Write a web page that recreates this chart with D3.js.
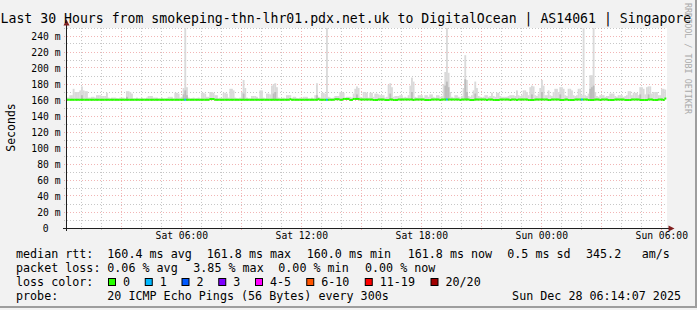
<!DOCTYPE html>
<html><head><meta charset="utf-8">
<script src="https://cdn.jsdelivr.net/npm/d3@7"></script>
<style>
html,body{margin:0;padding:0;background:#f2f2f2;}
svg{display:block;}
text{font-family:"DejaVu Sans Mono",monospace;fill:#000;}
</style></head><body>
<svg id="c" width="697" height="310"></svg>
<script>
// ---- data (5-minute steps, 360 steps = 30 hours) ----
const medianRtt = [
160.3,160.3,160.3,160.3,160.3,160.3,160.3,160.3,160.3,160.3,160.3,160.3,160.3,160.3,160.3,160.3,160.3,160.3,160.3,160.3,
160.3,160.3,160.3,160.3,160.3,160.3,160.3,160.3,160.3,160.3,160.3,160.3,160.3,160.3,160.3,160.3,160.3,160.3,160.3,160.3,
160.3,160.3,160.3,160.3,160.3,160.3,160.3,160.3,160.3,160.3,160.3,160.3,160.3,160.3,160.3,160.3,160.3,160.3,160.3,160.3,
160.3,160.3,160.3,160.3,160.3,160.3,160.3,160.3,160.3,160.3,160.3,160.3,160.3,160.3,160.3,160.3,160.3,160.3,160.3,160.3,
160.3,160.3,160.3,160.3,160.3,160.3,161.2,161.2,161.2,160.3,160.3,160.3,160.3,160.3,160.3,160.3,160.3,160.3,160.3,160.3,
160.3,160.3,160.3,160.3,160.3,160.3,160.3,160.3,160.3,160.3,160.3,160.3,160.3,160.3,160.3,160.3,160.3,160.3,160.3,160.3,
160.3,160.3,160.3,160.3,160.3,160.3,160.3,160.3,160.3,160.3,160.3,160.3,160.3,160.3,161.0,160.3,160.3,160.3,160.3,160.3,
160.3,160.3,160.3,160.3,160.3,160.3,160.3,160.3,160.3,160.3,160.3,161.0,160.3,160.3,160.3,160.3,160.3,160.3,160.3,160.3,
160.3,161.0,161.0,161.0,160.3,160.3,161.3,161.3,161.3,161.3,160.1,160.1,161.3,161.3,161.3,161.3,160.6,160.6,160.6,160.6,
160.6,160.6,160.6,160.6,160.0,160.0,160.0,160.6,160.6,160.6,160.6,160.0,160.0,160.0,160.6,160.6,160.0,160.0,160.0,160.6,
160.6,160.6,160.6,160.6,160.6,160.6,160.6,160.6,160.0,160.6,160.6,160.6,160.6,160.6,160.6,160.0,160.0,160.0,160.0,160.6,
160.6,160.6,160.6,160.6,160.0,160.6,160.6,160.6,160.6,160.6,160.6,160.6,160.6,160.6,160.6,160.6,160.0,160.6,160.6,160.6,
160.6,160.6,160.0,160.0,160.0,160.6,160.6,160.6,160.6,160.6,160.6,160.6,160.0,160.6,160.6,160.6,160.0,160.0,160.0,160.0,
160.6,160.6,160.6,160.6,160.6,160.6,160.0,160.6,160.6,160.6,160.0,160.6,160.6,160.6,160.6,160.6,160.6,160.0,160.0,160.0,
160.0,160.6,160.6,160.6,160.6,160.6,160.6,160.6,160.6,160.0,160.0,160.6,160.6,160.6,160.6,160.6,160.0,160.0,160.0,160.6,
160.6,160.0,160.0,160.0,160.0,160.6,160.6,160.6,160.6,160.6,160.6,160.6,160.6,160.0,160.0,160.0,160.0,160.6,160.6,160.6,
160.0,160.6,160.6,160.6,160.6,160.0,160.0,160.0,160.0,160.6,160.6,160.6,160.6,160.6,160.6,160.0,160.0,160.0,160.0,160.6,
160.6,160.6,160.6,160.6,160.0,160.0,160.0,160.0,160.0,160.6,160.6,160.6,160.0,160.0,160.0,160.6,160.6,160.6,160.0,161.8
];
const smokeMax = [
163,163,166,166,174,170,170,170,172,177,172,171,171,163,163,164,164,163,166,166,
166,165,165,165,169,163,162,163,163,163,162,162,163,163,163,162,171,171,170,168,
162,162,163,162,162,163,162,162,163,165,165,165,163,163,163,162,162,163,162,162,
162,164,164,164,162,169,169,168,163,164,175,260,176,163,162,162,163,162,162,163,
162,169,169,168,164,164,170,170,169,166,166,162,163,162,169,169,168,163,174,174,
172,163,162,162,163,170,185,175,163,162,162,165,165,165,164,162,172,172,163,162,
168,168,167,178,180,181,176,163,162,162,163,162,166,166,166,162,164,164,162,162,
163,162,164,164,164,162,162,163,162,166,181,164,163,169,169,168,260,164,163,162,
163,165,165,165,170,170,169,163,164,164,164,163,168,174,177,175,164,163,170,170,
169,163,169,169,164,168,168,167,166,166,166,163,164,179,181,176,164,165,165,165,
166,166,163,164,163,166,178,188,183,164,163,166,166,166,163,166,166,164,167,167,
164,163,166,166,164,165,180,195,260,194,170,164,163,166,166,164,163,165,175,216,
185,165,164,166,172,183,175,165,164,163,164,166,166,164,165,169,165,164,169,169,
165,164,164,164,164,165,166,166,166,165,172,166,165,166,172,172,170,166,176,178,
177,166,165,168,175,185,178,166,166,172,166,165,170,174,174,170,176,176,174,166,
165,174,174,172,166,165,166,174,174,166,260,166,165,168,191,191,260,170,165,164,
166,166,166,164,165,165,168,168,168,165,164,166,166,166,164,165,166,171,171,166,
169,169,169,166,176,176,174,167,176,177,177,168,170,170,170,166,166,174,174,173
];
// darker smoke core: [step, value]
const smokeDark = [[9,166],[36,164],[70,167],[71,172],[72,166],[106,168],[124,168],[125,170],[150,166],
  [174,167],[194,168],[207,170],[227,178],[228,183],[229,176],[239,186],[240,170],[245,168],[279,167],
  [285,170],[296,167],[314,174],[315,176],[316,178],[344,167],[349,167]];
// packet loss per step: [step, lost pings]
const lossSteps = [[71,1],[156,1],[228,1],[309,1]];

const yTicks = [0,20,40,60,80,100,120,140,160,180,200,220,240];
const yMinor = [10,30,50,70,90,110,130,150,170,190,210,230,250];
const xTickLabels = ["Sat 06:00","Sat 12:00","Sat 18:00","Sun 00:00","Sun 06:00"];
const lossLabels = ["0","1","2","3","4-5","6-10","11-19","20/20"];
const lossColors = ["#26ff00","#00b8ff","#0059ff","#7e00ff","#ff00ff","#ff5500","#ff0000","#a00000"];
const rttStats = ["160.4 ms avg","161.8 ms max","160.0 ms min","161.8 ms now","0.5 ms sd","345.2","am/s"];
const lossStats = ["0.06 % avg","3.85 % max","0.00 % min","0.00 % now"];
const titleText = "Last 30 Hours from smokeping-thn-lhr01.pdx.net.uk to DigitalOcean | AS14061 | Singapore";
const probeText = "20 ICMP Echo Pings (56 Bytes) every 300s";
const dateText = "Sun Dec 28 06:14:07 2025";

// ---- layout ----
const svg = d3.select("#c");
const t0 = Date.UTC(2025,11,27,0,14,7), t1 = Date.UTC(2025,11,28,6,14,7);
const STEP = 300000;
const x = d3.scaleUtc().domain([t0,t1]).range([66,666]);
const y = d3.scaleLinear().domain([0,250]).range([228,28]);
const px = v => Math.floor(v)+0.5;

svg.append("rect").attr("width",697).attr("height",310).attr("fill","#f2f2f2");
// frame
svg.append("rect").attr("x",0).attr("y",306).attr("width",697).attr("height",2).attr("fill","#9e9e9e");
svg.append("rect").attr("x",695).attr("y",0).attr("width",2).attr("height",308).attr("fill","#9e9e9e");

// canvas
svg.append("rect").attr("x",x.range()[0]+1).attr("y",y(250)).attr("width",600).attr("height",y(0)-y(250)).attr("fill","#fff");
svg.append("clipPath").attr("id","clip").append("rect")
  .attr("x",x.range()[0]).attr("y",y(250)).attr("width",601).attr("height",y(0)-y(250));

const grid = svg.append("g");
const minorCol = "rgba(143,143,143,0.5)", majorCol = "rgba(222,79,79,0.42)";
// vertical grid
const hours = d3.utcHour.range(new Date(t0), new Date(t1));
hours.forEach(h => {
  const major = h.getUTCHours() % 3 === 0;
  const xx = px(x(h));
  grid.append("line").attr("x1",xx).attr("x2",xx).attr("y1",y(250)).attr("y2",y(0)+3)
    .attr("stroke",major?majorCol:minorCol).attr("stroke-dasharray","1,2");
});
// horizontal grid
yMinor.forEach(v => {
  const yy = px(y(v));
  grid.append("line").attr("x1",x.range()[0]-2).attr("x2",667).attr("y1",yy).attr("y2",yy)
    .attr("stroke",minorCol).attr("stroke-dasharray","1,2");
});
yTicks.filter(v=>v>0).forEach(v => {
  const yy = px(y(v));
  grid.append("line").attr("x1",x.range()[0]-2).attr("x2",667).attr("y1",yy).attr("y2",yy)
    .attr("stroke",majorCol).attr("stroke-dasharray","1,2");
});

// smoke
const plot = svg.append("g").attr("clip-path","url(#clip)");
const xs = i => x(t0 + i*STEP), xe = i => x(t0 + (i+1)*STEP);
plot.selectAll("rect.smoke").data(smokeMax).join("rect").attr("class","smoke")
  .attr("x",(d,i)=>xs(i)).attr("width",(d,i)=>xe(i)-xs(i)+0.2)
  .attr("y",d=>y(d)).attr("height",(d,i)=>Math.max(0,y(medianRtt[i])-y(d)))
  .attr("fill","#dadada");
plot.selectAll("rect.dark").data(smokeDark).join("rect").attr("class","dark")
  .attr("x",d=>xs(d[0])).attr("width",d=>xe(d[0])-xs(d[0])+0.2)
  .attr("y",d=>y(d[1])).attr("height",d=>Math.max(0,y(medianRtt[d[0]])-y(d[1])))
  .attr("fill","#bcbcbc");

// median line coloured by loss
const lossOf = new Map(lossSteps);
const lossIdx = n => n===0?0:n===1?1:n===2?2:n===3?3:n<=5?4:n<=10?5:n<=19?6:7;
plot.selectAll("rect.med").data(medianRtt).join("rect").attr("class","med")
  .attr("x",(d,i)=>xs(i)).attr("width",(d,i)=>xe(i)-xs(i)+0.3)
  .attr("y",d=>y(d)-1).attr("height",2)
  .attr("fill",(d,i)=>lossColors[lossIdx(lossOf.get(i)||0)]);

// axes
const axisCol = "#1f1f1f", arrowCol = "#801f1f";
svg.append("line").attr("x1",63).attr("x2",672).attr("y1",px(y(0))).attr("y2",px(y(0))).attr("stroke",axisCol);
svg.append("line").attr("x1",px(x(t0))).attr("x2",px(x(t0))).attr("y1",231).attr("y2",22).attr("stroke",axisCol);
svg.append("path").attr("d",`M${px(x(t0))-3},25.5L${px(x(t0))},19.5L${px(x(t0))+3},25.5Z`).attr("fill",arrowCol);
svg.append("path").attr("d",`M668.5,${px(y(0))-3}L674.5,${px(y(0))}L668.5,${px(y(0))+3}Z`).attr("fill",arrowCol);

// y labels via d3 axis
const yAxis = d3.axisLeft(y).tickValues(yTicks).tickSize(0).tickPadding(0)
  .tickFormat(d => d===0 ? "0" : d+" m");
const ya = svg.append("g").attr("transform","translate(60.5,0)").call(yAxis);
ya.select(".domain").remove();
ya.selectAll("text").attr("font-family","DejaVu Sans Mono").attr("font-size","9.7px").attr("fill","#000")
  .attr("dy","0.35em").attr("dx",d=>d===0?-12:0);

// x labels via d3 axis
const xTickTimes = d3.utcHour.every(6).range(new Date(t0), new Date(t1));
const xAxis = d3.axisBottom(x).tickValues(xTickTimes).tickSize(0).tickPadding(0)
  .tickFormat((d,i)=>xTickLabels[i]);
const xa = svg.append("g").attr("transform","translate(0,233)").call(xAxis);
xa.select(".domain").remove();
xa.selectAll("text").attr("font-family","DejaVu Sans Mono").attr("font-size","9.7px").attr("fill","#000").attr("dy","0.6em");

// title
svg.append("text").attr("x",0.5).attr("y",22.5).attr("font-size","13.2px").text(titleText);
// unit label
svg.append("text").attr("transform","translate(15,127.5) rotate(-90)").attr("text-anchor","middle")
  .attr("font-size","11.5px").text("Seconds");
// watermark
svg.append("text").attr("transform","translate(684.5,3) rotate(90)").attr("font-size","8.4px")
  .style("fill","#aaaaaa").text("RRDTOOL / TOBI OETIKER");

// legend
const lf = "11.7px";
const L1 = 257.5, L2 = 271.7, L3 = 285.9, L4 = 300;
svg.append("text").attr("x",16).attr("y",L1).attr("font-size",lf).text("median rtt:");
const c1 = [107.3,206.7,306.7,407.7,507.3,586,641.7];
rttStats.forEach((s,i)=>svg.append("text").attr("x",c1[i]).attr("y",L1).attr("font-size",lf).text(s));
svg.append("text").attr("x",16).attr("y",L2).attr("font-size",lf).text("packet loss:");
const c2 = [107.3,193.3,278.3,365];
lossStats.forEach((s,i)=>svg.append("text").attr("x",c2[i]).attr("y",L2).attr("font-size",lf).text(s));
svg.append("text").attr("x",16).attr("y",L3).attr("font-size",lf).text("loss color:");
let cur = 108;
lossLabels.forEach((s,i)=>{
  svg.append("rect").attr("x",cur+0.5).attr("y",278.5).attr("width",7).attr("height",7)
    .attr("fill",lossColors[i]).attr("stroke","#000");
  svg.append("text").attr("x",cur+15).attr("y",L3).attr("font-size",lf).text(s);
  cur = cur + 15 + (s.length+2)*7.25;
});
svg.append("text").attr("x",16).attr("y",L4).attr("font-size",lf).text("probe:");
svg.append("text").attr("x",107.3).attr("y",L4).attr("font-size",lf).text(probeText);
svg.append("text").attr("x",681).attr("y",L4).attr("text-anchor","end").attr("font-size",lf).text(dateText);
</script>
</body></html>
